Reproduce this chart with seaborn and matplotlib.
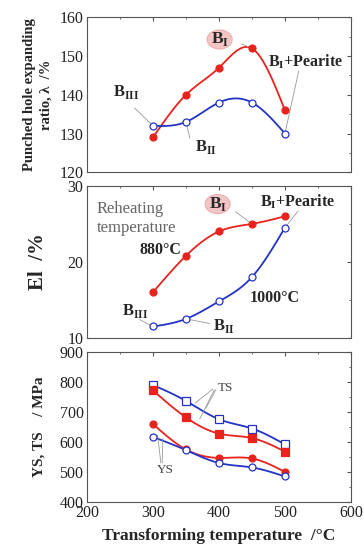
import numpy as np
import pandas as pd
import matplotlib
matplotlib.use('Agg')
import matplotlib.pyplot as plt
from matplotlib.ticker import MultipleLocator
from matplotlib.patches import Ellipse
import seaborn as sns

# transforming temperatures (deg C)
temps = [300, 350, 400, 450, 500]

# punched hole expanding ratio, %
hole_880 = [129, 140, 147, 152, 136]
hole_1000 = [132, 133, 138, 138, 130]

# elongation, %
el_880 = [16.0, 20.8, 24.0, 25.0, 26.0]
el_1000 = [11.5, 12.5, 14.8, 18.0, 24.5]

# strength, MPa
ts_1000 = [790, 737, 676, 645, 592]
ts_880 = [772, 682, 628, 613, 568]
ys_880 = [660, 575, 547, 545, 500]
ys_1000 = [617, 573, 530, 515, 485]

RED = '#e8231e'
BLUE = '#2433c4'

sns.set_style('white')
plt.rcParams['font.family'] = ['Liberation Serif', 'DejaVu Serif']
plt.rcParams['mathtext.fontset'] = 'custom'
plt.rcParams['mathtext.rm'] = 'Liberation Serif'
plt.rcParams['mathtext.bf'] = 'Liberation Serif:bold'


def smooth(x, y, n=120):
    """natural cubic spline through the points, just for drawing the curve"""
    x = np.asarray(x, float)
    y = np.asarray(y, float)
    k = len(x)
    h = np.diff(x)
    A = np.zeros((k, k))
    b = np.zeros(k)
    A[0, 0] = A[-1, -1] = 1
    for i in range(1, k - 1):
        A[i, i - 1] = h[i - 1]
        A[i, i] = 2 * (h[i - 1] + h[i])
        A[i, i + 1] = h[i]
        b[i] = 6 * ((y[i + 1] - y[i]) / h[i] - (y[i] - y[i - 1]) / h[i - 1])
    m = np.linalg.solve(A, b)
    xs = np.linspace(x[0], x[-1], n)
    idx = np.clip(np.searchsorted(x, xs) - 1, 0, k - 2)
    t = xs - x[idx]
    hi = h[idx]
    a = (m[idx + 1] - m[idx]) / (6 * hi)
    c = (y[idx + 1] - y[idx]) / hi - hi * (2 * m[idx] + m[idx + 1]) / 6
    ys = y[idx] + c * t + m[idx] / 2 * t ** 2 + a * t ** 3
    return xs, ys


def draw(ax, y, color, marker, filled, size):
    xs, ys = smooth(temps, y)
    sns.lineplot(x=xs, y=ys, ax=ax, color=color, lw=1.3, sort=False)
    ax.plot(temps, y, ls='none', marker=marker, ms=size, mew=0.9,
            mec=color, mfc=color if filled else 'white', zorder=5)


def style(ax, ylim, major, minor, show_x):
    ax.set_xlim(200, 600)
    ax.set_ylim(*ylim)
    ax.xaxis.set_major_locator(MultipleLocator(100))
    ax.xaxis.set_minor_locator(MultipleLocator(50))
    ax.yaxis.set_major_locator(MultipleLocator(major))
    ax.yaxis.set_minor_locator(MultipleLocator(minor))
    ax.tick_params(which='both', direction='in', top=True, right=True,
                   colors='#555555', labelcolor='#222222', labelsize=11.5,
                   pad=2.5)
    ax.tick_params(which='major', length=3)
    ax.tick_params(which='minor', length=1.5)
    if not show_x:
        ax.set_xticklabels([])
    for sp in ax.spines.values():
        sp.set_linestyle((0, (2.5, 1)))
        sp.set_color('#555555')
        sp.set_linewidth(0.8)
    ax.set_xlabel('')


def leader(ax, xy, xytext):
    ax.annotate('', xy=xy, xytext=xytext,
                arrowprops=dict(arrowstyle='-', color='#999999', lw=0.6,
                                shrinkA=0, shrinkB=0))


def badge(ax, x, y, w, h):
    ax.add_patch(Ellipse((x, y), w, h, fc='#f3c5c5', ec='#eab0b0', lw=0.8,
                         zorder=3))
    ax.text(x, y, bi, fontsize=12.5, ha='center', va='center', zorder=4)


fig = plt.figure(figsize=(3.64, 5.45), dpi=100)
ax1 = fig.add_axes([0.239, 0.684, 0.725, 0.284])
ax2 = fig.add_axes([0.239, 0.380, 0.725, 0.279])
ax3 = fig.add_axes([0.239, 0.079, 0.725, 0.275])

bi = r'$\mathbf{B}_{\mathbf{I}}$'
bii = r'$\mathbf{B}_{\mathbf{II}}$'
biii = r'$\mathbf{B}_{\mathbf{III}}$'
bip = r'$\mathbf{B}_{\mathbf{I}}\mathbf{+Pearite}$'

# ---- hole expanding ratio
draw(ax1, hole_880, RED, 'o', True, 5)
draw(ax1, hole_1000, BLUE, 'o', False, 5)
style(ax1, (120, 160), 10, 5, False)
ax1.set_ylabel('Punched hole expanding\nratio, λ  /%', fontsize=10.5,
               fontweight='bold', labelpad=5, linespacing=1.4)
badge(ax1, 401, 154.3, 38, 4.9)
leader(ax1, (450, 152), (434, 153.2))
ax1.text(474, 148.6, bip, fontsize=11.5, ha='left', va='center')
leader(ax1, (500, 130), (521, 146.2))
ax1.text(259, 140.8, biii, fontsize=12, ha='center', va='center')
leader(ax1, (300, 132), (272, 136.6))
ax1.text(380, 126.4, bii, fontsize=12, ha='center', va='center')
leader(ax1, (350, 133), (356, 128.8))

# ---- elongation
draw(ax2, el_880, RED, 'o', True, 5)
draw(ax2, el_1000, BLUE, 'o', False, 5)
style(ax2, (10, 30), 10, 5, False)
ax2.set_ylabel('El  /%', fontsize=15, fontweight='bold', labelpad=14)
ax2.text(215, 25.7, 'Reheating\ntemperature', fontsize=12, color='#666666',
         ha='left', va='center', linespacing=1.2)
ax2.text(312, 21.5, '880°C', fontsize=11.5, fontweight='bold', ha='center',
         va='center')
badge(ax2, 398, 27.6, 38, 2.5)
leader(ax2, (450, 25), (425, 26.6))
ax2.text(462, 27.9, bip, fontsize=11.5, ha='left', va='center')
leader(ax2, (500, 24.5), (520, 26.7))
ax2.text(484, 15.3, '1000°C', fontsize=11.5, fontweight='bold',
         ha='center', va='center')
ax2.text(273, 13.5, biii, fontsize=12, ha='center', va='center')
leader(ax2, (300, 11.5), (280, 12.4))
ax2.text(408, 11.6, bii, fontsize=12, ha='center', va='center')
leader(ax2, (350, 12.5), (386, 11.9))

# ---- strength
draw(ax3, ts_1000, BLUE, 's', False, 6)
draw(ax3, ts_880, RED, 's', True, 6)
draw(ax3, ys_880, RED, 'o', True, 5)
draw(ax3, ys_1000, BLUE, 'o', False, 5)
style(ax3, (400, 900), 100, 50, True)
ax3.set_ylabel('YS, TS    / MPa', fontsize=11, fontweight='bold',
               labelpad=10)
ax3.set_xlabel('Transforming temperature  /°C', fontsize=12.5,
               fontweight='bold', labelpad=5)
ax3.text(410, 780, 'TS', fontsize=9.5, color='#444444', ha='center',
         va='center')
leader(ax3, (364, 730), (391, 777))
leader(ax3, (371, 677), (393, 774))
leader(ax3, (380, 712), (395, 773))
ax3.text(318, 505, 'YS', fontsize=9.5, color='#444444', ha='center',
         va='center')
leader(ax3, (307, 622), (312, 530))
leader(ax3, (315, 612), (314, 530))

fig.savefig('out.png', dpi=100)
